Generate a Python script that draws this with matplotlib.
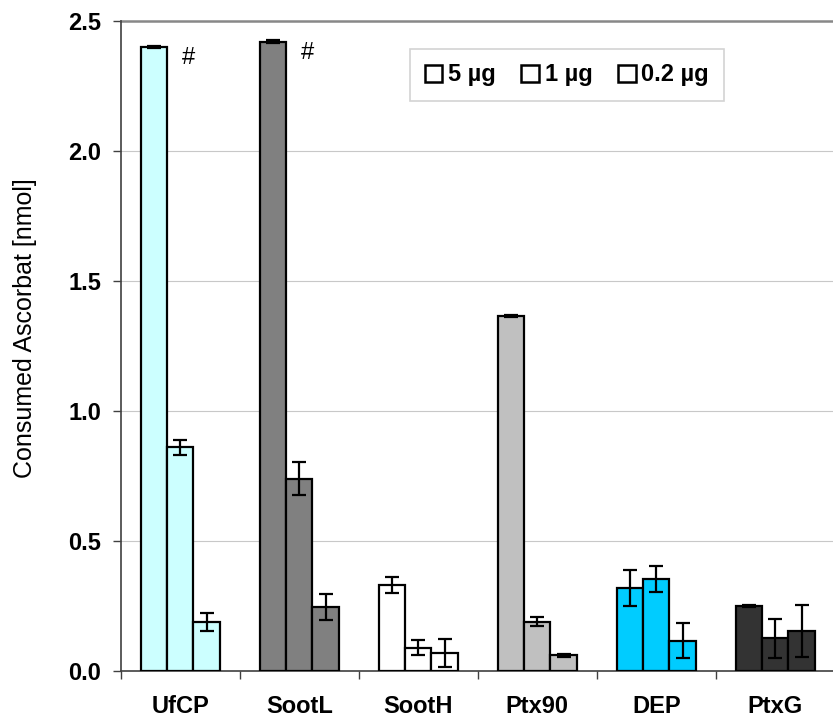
import matplotlib
matplotlib.use("Agg")
import matplotlib.pyplot as plt
from matplotlib.patches import Patch
import numpy as np

plt.rcParams['font.family'] = ['Liberation Sans', 'DejaVu Sans']

categories = ["UfCP", "SootL", "SootH", "Ptx90", "DEP", "PtxG"]
doses = ["5 µg", "1 µg", "0.2 µg"]
colors = ["#CCFFFF", "#808080", "#FFFFFF", "#C0C0C0", "#00CCFF", "#333333"]

val_5ug = [2.40, 2.42, 0.33, 1.365, 0.32, 0.25]
err_5ug = [0.003, 0.006, 0.03, 0.004, 0.07, 0.005]
val_1ug = [0.86, 0.74, 0.09, 0.19, 0.354, 0.127]
err_1ug = [0.03, 0.065, 0.03, 0.018, 0.05, 0.075]
val_02ug = [0.19, 0.246, 0.069, 0.06, 0.117, 0.155]
err_02ug = [0.035, 0.05, 0.055, 0.006, 0.068, 0.1]
marked = ["#", "#", "", "", "", ""]

values = [val_5ug, val_1ug, val_02ug]
errors = [err_5ug, err_1ug, err_02ug]

fig = plt.figure(figsize=(8.33, 7.2), dpi=100)
ax = fig.add_axes([0.145, 0.068, 0.857, 0.903])

x = np.arange(len(categories))
w = 0.222
for j in range(3):
    pos = x + (j - 1) * w
    ax.bar(pos, values[j], width=w, color=colors, edgecolor="black",
           linewidth=1.6, zorder=3)
    ax.errorbar(pos, values[j], yerr=errors[j], fmt="none", ecolor="black",
                elinewidth=1.6, capsize=5, capthick=1.6, zorder=4)

for i, m in enumerate(marked):
    if m:
        ax.text(x[i] + 0.015, val_5ug[i] - 0.065, m, fontsize=17,
                ha="left", va="baseline", zorder=5)

ax.set_xlim(-0.5, len(categories) - 0.5)
ax.set_ylim(0, 2.5)
yt = [0, 0.5, 1.0, 1.5, 2.0, 2.5]
ax.set_yticks(yt)
ax.set_yticklabels([f"{v:.1f}" for v in yt], fontsize=17, fontweight="bold")
ax.set_xticks(x)
ax.set_xticklabels(categories, fontsize=17, fontweight="bold")
ax.tick_params(axis="x", length=0, pad=17)
ax.set_xticks(np.arange(-0.5, len(categories)), minor=True)
ax.tick_params(axis="x", which="minor", length=6, width=1, color="#404040")
ax.tick_params(axis="y", length=6, width=1, color="#404040", pad=8)
ax.set_ylabel("Consumed Ascorbat [nmol]", fontsize=18)
ax.yaxis.set_label_coords(-0.118, 0.528)

ax.yaxis.grid(True, color="#C8C8C8", linewidth=0.8, zorder=0)
ax.axhline(2.5, color="#888888", linewidth=1.8, zorder=1, clip_on=False)
ax.set_axisbelow(True)
for s in ["top", "right"]:
    ax.spines[s].set_visible(False)
ax.spines["left"].set_color("#404040")
ax.spines["bottom"].set_color("#404040")
ax.spines["left"].set_linewidth(1.2)
ax.spines["bottom"].set_linewidth(1.2)

handles = [Patch(facecolor="white", edgecolor="black", linewidth=1.8)
           for _ in doses]
leg = ax.legend(handles, doses, ncol=3, loc="upper left",
                bbox_to_anchor=(0.405, 0.957), borderaxespad=0,
                frameon=True, fancybox=False,
                prop={"size": 17, "weight": "bold"}, handlelength=0.76,
                handleheight=0.76, handletextpad=0.22, columnspacing=1.1,
                borderpad=0.62)
leg.get_frame().set_edgecolor("#C8C8C8")
leg.get_frame().set_linewidth(1.2)

fig.savefig("out.png", dpi=100)
